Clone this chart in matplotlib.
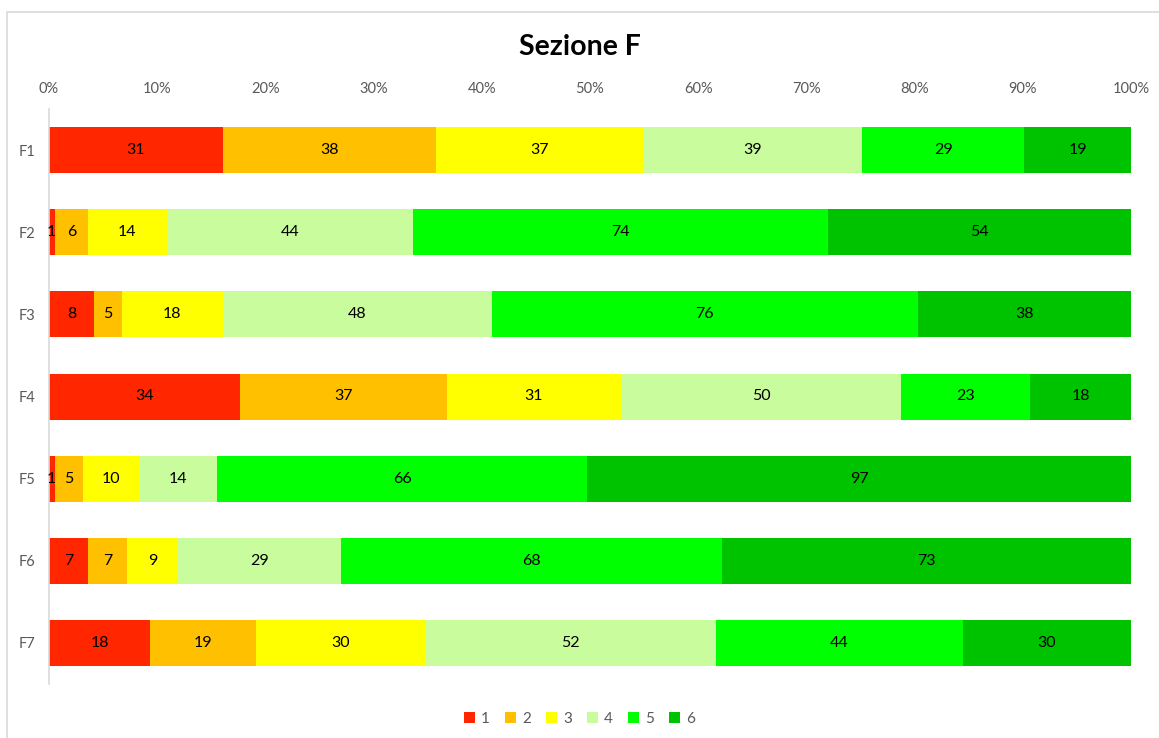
import matplotlib
matplotlib.use("Agg")
import matplotlib.pyplot as plt
from matplotlib.patches import Rectangle
from matplotlib.ticker import PercentFormatter

categories = ["F1", "F2", "F3", "F4", "F5", "F6", "F7"]
series_names = ["1", "2", "3", "4", "5", "6"]
s1 = [31, 1, 8, 34, 1, 7, 18]
s2 = [38, 6, 5, 37, 5, 7, 19]
s3 = [37, 14, 18, 31, 10, 9, 30]
s4 = [39, 44, 48, 50, 14, 29, 52]
s5 = [29, 74, 76, 23, 66, 68, 44]
s6 = [19, 54, 38, 18, 97, 73, 30]
series = [s1, s2, s3, s4, s5, s6]
colors = ["#FF2600", "#FFC000", "#FFFF00", "#C8FC9C", "#00FF00", "#00C300"]

plt.rcParams["font.family"] = ["Lato", "DejaVu Sans"]

fig = plt.figure(figsize=(11.59, 7.38), dpi=100)
fig.patches.append(Rectangle((7 / 1159, -0.02), 1.05, 1 - 12 / 738 + 0.02,
                             transform=fig.transFigure, fill=False,
                             edgecolor="#D9D9D9", linewidth=1.2, zorder=0))
ax = fig.add_axes([49 / 1159, 1 - 684 / 738, (1131 - 49) / 1159, (684 - 109) / 738])

totals = [sum(vals) for vals in zip(*series)]
ypos = list(range(len(categories)))
left = [0.0] * len(categories)
for name, vals, col in zip(series_names, series, colors):
    widths = [v / t for v, t in zip(vals, totals)]
    bars = ax.barh(ypos, widths, left=left, height=0.56, color=col, label=name)
    ax.bar_label(bars, labels=[str(v) for v in vals], label_type="center",
                 fontsize=11.5, color="#000000")
    left = [l + w for l, w in zip(left, widths)]

ax.set_xlim(0, 1)
ax.set_ylim(len(categories) - 0.5, -0.5)
ax.set_yticks(ypos)
ax.set_yticklabels(categories)
ax.set_xticks([i / 10 for i in range(11)])
ax.xaxis.set_major_formatter(PercentFormatter(1.0, decimals=0))
ax.xaxis.tick_top()
ax.tick_params(axis="both", length=0, labelsize=10.5, labelcolor="#595959")
ax.tick_params(axis="x", pad=9.5)
ax.tick_params(axis="y", pad=10)
for side in ["top", "right", "bottom"]:
    ax.spines[side].set_visible(False)
ax.spines["left"].set_color("#D9D9D9")
ax.spines["left"].set_linewidth(1.2)

fig.text(0.5, 1 - 47 / 738, "Sezione F", ha="center", va="center",
         fontsize=20.5, fontweight="bold", color="#000000")

handles, labels = ax.get_legend_handles_labels()
fig.legend(handles, labels, loc="center", bbox_to_anchor=(0.5, 1 - 719 / 738),
           ncol=6, frameon=False, fontsize=11, handlelength=0.7, handleheight=0.7,
           handletextpad=0.4, columnspacing=1.0, labelcolor="#595959")

fig.savefig("out.png", dpi=100)
